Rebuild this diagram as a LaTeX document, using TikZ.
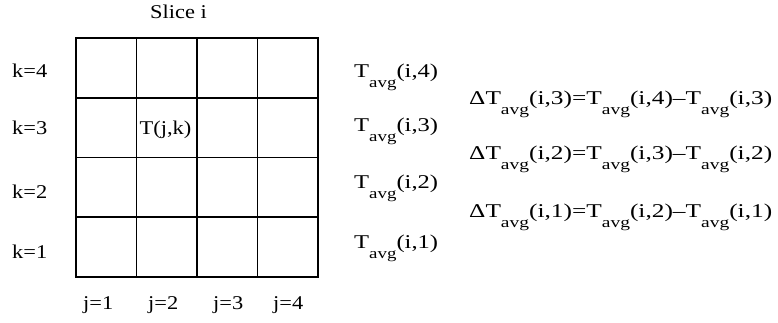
\documentclass[tikz,border=0pt]{standalone}
\usepackage{fontspec}
\setmainfont{Liberation Serif}
\usepackage{graphicx}
\usetikzlibrary{positioning}

% text of the figure is set wide
\newcommand{\wide}[1]{\scalebox{1.15}[1]{#1}}
\newcommand{\wider}[1]{\scalebox{1.26}[1]{#1}}
\newcommand{\widest}[1]{\scalebox{1.3}[1]{#1}}
\newcommand{\Tav}{T\raisebox{-10pt}{\fontsize{15}{15}\selectfont avg}}

\begin{document}
\begin{tikzpicture}[x=1pt, y=-1pt,
    lbl/.style={anchor=base west, inner sep=0pt, font=\fontsize{19.5}{22}\selectfont},
    cellline/.style={line width=1.7pt, line cap=rect}]
    \useasboundingbox (0,0) rectangle (778,323);

    % Title
    \node[lbl] (title) at (150,18.5) {\wide{Slice i}};

    % The 4x4 grid of cells of the slice
    \foreach \c in {0,...,4} {
        \draw[cellline] (76+60.5*\c, 38) -- (76+60.5*\c, 277);
        \draw[cellline] (76, 38+59.75*\c) -- (318, 38+59.75*\c);
    }
    \node[lbl] (cell) at (139.5,135) {\wide{T(j,k)}};

    % Row and column indices
    \foreach \k/\y in {4/77.3, 3/135, 2/198, 1/258} {
        \node[lbl] (k\k) at (12,\y) {\wide{k=\k}};
    }
    \foreach \j/\x in {1/83, 2/148, 3/213, 4/273} {
        \node[lbl] (j\j) at (\x,309) {\wide{j=\j}};
    }

    % Layer averages
    \foreach \k/\y in {4/77.7, 3/131.7, 2/188.7, 1/248.7} {
        \node[lbl] (avg\k) at (354,\y) {\wider{\Tav(i,\k)}};
    }

    % Differences between neighbouring layers
    \foreach \k/\y in {3/105, 2/160, 1/217} {
        \pgfmathtruncatemacro{\kp}{\k+1}
        \node[lbl] (dT\k) at (469,\y) {\widest{Δ\Tav(i,\k)=\Tav(i,\kp)–\Tav(i,\k)}};
    }
\end{tikzpicture}
\end{document}
